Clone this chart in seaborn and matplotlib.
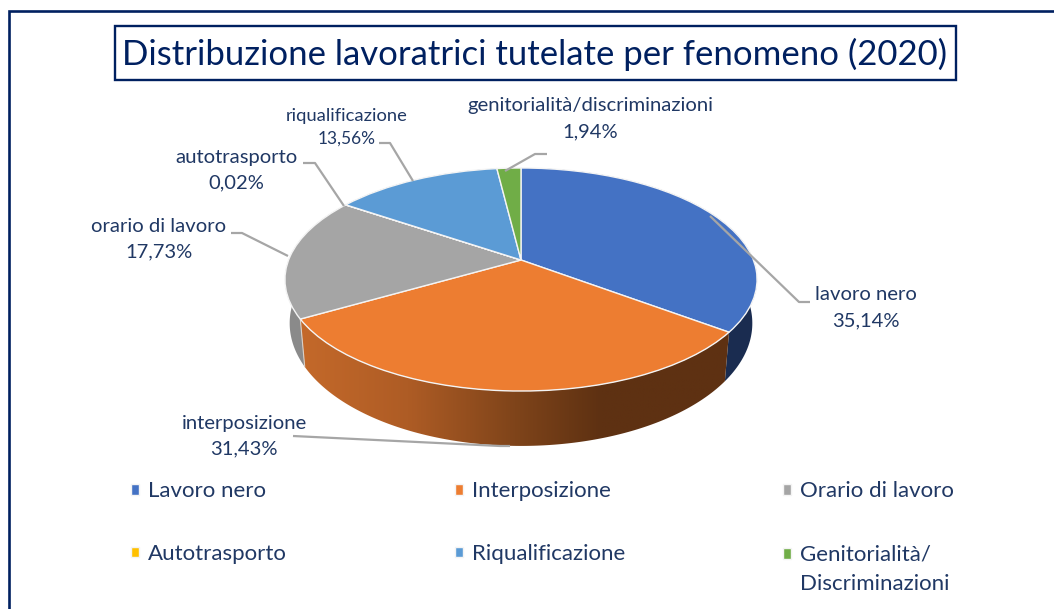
import numpy as np
import matplotlib
matplotlib.use("Agg")
import matplotlib.pyplot as plt
import seaborn as sns
from matplotlib.transforms import Transform
from matplotlib.patches import Polygon, Rectangle
from matplotlib.colors import LinearSegmentedColormap

# --- data ---
categories = ["Lavoro nero", "Interposizione", "Orario di lavoro",
              "Autotrasporto", "Riqualificazione", "Genitorialità/\nDiscriminazioni"]
slice_labels = ["lavoro nero", "interposizione", "orario di lavoro",
                "autotrasporto", "riqualificazione", "genitorialità/discriminazioni"]
values = [35.14, 31.43, 17.73, 0.02, 13.56, 1.94]
value_labels = ["35,14%", "31,43%", "17,73%", "0,02%", "13,56%", "1,94%"]
title = "Distribuzione lavoratrici tutelate per fenomeno (2020)"

# --- style ---
sns.set_theme(style="white")
plt.rcParams["font.family"] = ["Lato", "DejaVu Sans"]
colors = ["#4472C4", "#ED7D31", "#A5A5A5", "#FFC000", "#5B9BD5", "#70AD47"]
NAVY = "#002060"
TEXT = "#203864"
LEAD = "#A6A6A6"

W, H = 1054, 609
fig = plt.figure(figsize=(W / 100, H / 100), dpi=100, facecolor="white")
ax = fig.add_axes([0, 0, 1, 1])

CX, CY, KX, SY, PC = 521.0, 260.0, 232.4, 108.1, 0.175


def project(x, y, lower=False):
    d = 1 + PC * y
    X = KX * x / d
    Y = SY * y / d
    if lower:
        X = X * 0.98
        Y = 1.1 * Y - 41.8
    return CX + X, CY - Y


class Perspective(Transform):
    input_dims = output_dims = 2
    is_affine = False
    has_inverse = False

    def transform_non_affine(self, values):
        v = np.asarray(values, dtype=float)
        X, Y = project(v[:, 0], v[:, 1])
        return np.column_stack([X, Y])


wedges, _ = ax.pie(values, colors=colors, startangle=90, counterclock=False,
                   wedgeprops=dict(edgecolor="#F4F4F4", linewidth=1.0, zorder=5))
persp = Perspective()
for w in wedges:
    w.set_transform(persp + ax.transData)
    w.set_clip_on(False)

ax.set_aspect("auto")
ax.set_xlim(0, W)
ax.set_ylim(H, 0)
ax.axis("off")


def side_polygon(w):
    th = np.radians(np.linspace(w.theta1, w.theta2, 160))
    tx, ty = project(np.cos(th), np.sin(th))
    bx, by = project(np.cos(th), np.sin(th), lower=True)
    return np.column_stack([np.r_[tx, bx[::-1]], np.r_[ty, by[::-1]]])


side_colors = {0: "#1A2C50", 2: "#8A8A8A", 3: "#B08600", 4: "#3F6F9C", 5: "#4F7A32"}
for i, w in enumerate(wedges):
    if i == 1:
        continue
    ax.add_patch(Polygon(side_polygon(w), closed=True, facecolor=side_colors[i],
                         edgecolor="none", zorder=2))

# orange rim, shaded from left to right
orange_poly = Polygon(side_polygon(wedges[1]), closed=True, facecolor="none",
                      edgecolor="none", zorder=3)
ax.add_patch(orange_poly)
cmap = LinearSegmentedColormap.from_list(
    "rim", [(0.0, "#C4692A"), (0.25, "#AE5C25"), (0.5, "#7F441A"),
            (0.7, "#5E3112"), (1.0, "#5E3112")])
grad = ax.imshow(np.linspace(0, 1, 256)[None, :], cmap=cmap, aspect="auto",
                 extent=[300, 730, 450, 310], zorder=3)
grad.set_clip_path(orange_poly)
ax.set_xlim(0, W)
ax.set_ylim(H, 0)
ax.plot(*np.array(side_polygon(wedges[1])[[0, -1]]).T, color="#D8D0C8", lw=0.8, zorder=4)

# outer frame (top and left only)
ax.plot([8.5, 8.5, W], [H, 10.5, 10.5], color=NAVY, lw=1.9, zorder=6, clip_on=False,
        solid_joinstyle="miter")

# title box
ax.add_patch(Rectangle((114.5, 25.5), 841.5, 54.5, facecolor="white", edgecolor=NAVY,
                       lw=1.7, zorder=6))
ax.text(535, 54, title, ha="center", va="center", fontsize=25.05, color=NAVY, zorder=7)

# leader lines
leaders = {
    0: ([710, 799, 810], [216, 302, 302]),
    1: ([293, 500, 510], [436, 446, 446]),
    2: ([231, 242, 288], [233, 233, 256]),
    3: ([303, 315, 344], [163, 163, 206]),
    4: ([379, 390, 413], [143, 143, 181]),
    5: ([505, 535, 547], [171, 154, 154]),
}
for xs, ys in leaders.values():
    ax.plot(xs, ys, color=LEAD, lw=1.6, zorder=6, solid_capstyle="butt")

# data labels
label_pos = {
    0: (866, 295, 321),
    1: (244, 423, 449),
    2: (159, 226, 252),
    3: (236, 158, 183),
    4: (347, 116, 139),
    5: (590, 106, 132),
}
for i, (x, y1, y2) in label_pos.items():
    small = i == 4
    ax.text(x, y1, slice_labels[i], ha="center", va="center", color=TEXT,
            fontsize=13.2 if small else 14.6, zorder=7)
    ax.text(x, y2, value_labels[i], ha="center", va="center", color=TEXT,
            fontsize=12.5 if small else 14.5, zorder=7)

# legend: three columns of two entries
anchors = [(127, 477), (451, 477), (779, 477)]
for col, anchor in enumerate(anchors):
    idx = [col, col + 3]
    leg = ax.legend([wedges[i] for i in idx], [categories[i] for i in idx],
                    loc="upper left", bbox_to_anchor=anchor,
                    bbox_transform=ax.transData, frameon=False, borderpad=0.2,
                    borderaxespad=0, handlelength=0.36, handleheight=0.36,
                    handletextpad=0.4, labelspacing=1.945 if col == 2 else 1.92,
                    fontsize=16, labelcolor=TEXT)
    leg.set_zorder(7)
    if col == 2:
        # two-line entry: the square sits beside the first line
        leg.get_texts()[1].set_linespacing(1.58)
        h = leg.legend_handles[1]
        h.set_y(h.get_y() + 11.6)
    ax.add_artist(leg)
ax.legend_ = None

fig.savefig("out.png", dpi=100, facecolor="white")
